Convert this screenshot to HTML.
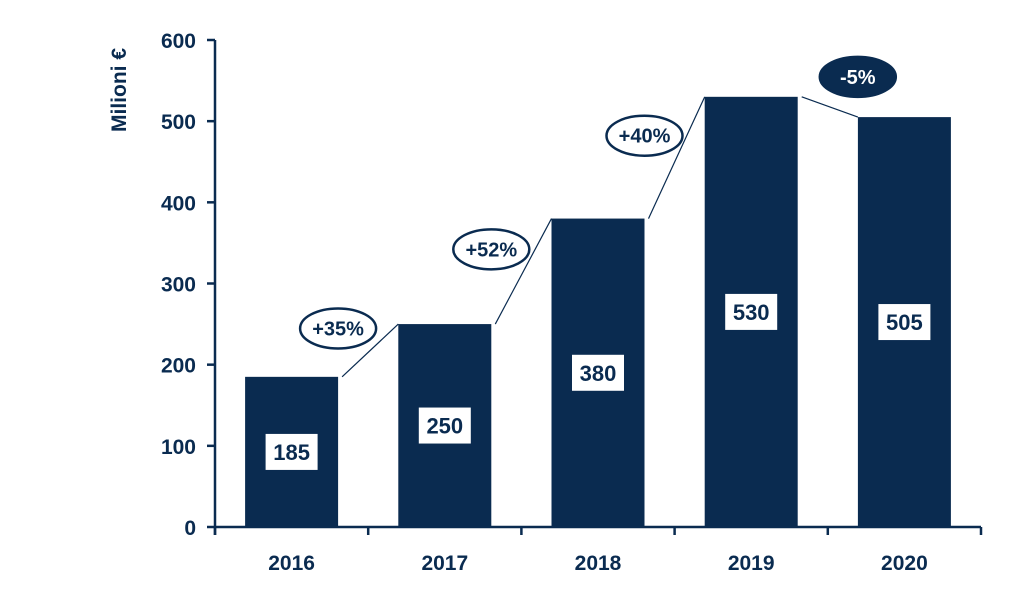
<!DOCTYPE html>
<html><head><meta charset="utf-8"><style>
body{margin:0;background:#fff;}
svg text{font-family:"Liberation Sans",sans-serif;font-weight:bold;fill:#0a2b50;}
</style></head><body>
<svg id="chart" width="1024" height="601" viewBox="0 0 1024 601" xmlns="http://www.w3.org/2000/svg">
<text x="0" y="0" font-size="21" text-anchor="middle" transform="translate(126,90) rotate(-90)">Milioni €</text>
<g id="g"></g>
</svg>
<script>
const categories=["2016","2017","2018","2019","2020"];
const values=[185,250,380,530,505];
const changes=["+35%","+52%","+40%","-5%"];
const yTicks=[0,100,200,300,400,500,600];
const C="#0a2b50",NS="http://www.w3.org/2000/svg";
const x0=215,x1=981,y0=527,yTop=40;
const bw=(x1-x0)/categories.length;
const ys=v=>y0-(v/600)*(y0-yTop);
const xc=i=>x0+bw*(i+0.5);
const barW=93;
const g=document.getElementById('g');
function el(t,a,txt){const e=document.createElementNS(NS,t);for(const k in a)e.setAttribute(k,a[k]);if(txt!=null)e.textContent=txt;g.appendChild(e);return e;}
let e;
e=el('line',{x1:x0,y1:yTop,x2:x0,y2:y0+8,stroke:C,'stroke-width':2.5});


e=el('line',{x1:x0,y1:y0,x2:x1,y2:y0,stroke:C,'stroke-width':2.5});


yTicks.forEach(v=>{
 e=el('line',{x1:x0-8,y1:ys(v),x2:x0,y2:ys(v),stroke:C,'stroke-width':2.5});
 
 
 e=el('text',{x:196,y:ys(v)+8,'font-size':21,'text-anchor':'end'},v);
 
 
});
for(let i=0;i<=categories.length;i++){
 e=el('line',{x1:x0+bw*i,y1:y0,x2:x0+bw*i,y2:y0+8,stroke:C,'stroke-width':2.5});
 
 
}
categories.forEach((c,i)=>{
 const v=values[i],bx=xc(i)-barW/2;
 e=el('rect',{x:bx,y:ys(v),width:barW,height:y0-ys(v),fill:C});
 
 
 const my=(ys(v)+y0)/2;
 e=el('rect',{x:xc(i)-26,y:my-18,width:52,height:36,fill:'#fff'});
 
 
 e=el('text',{x:xc(i),y:my+8,'font-size':22,'text-anchor':'middle'},v);
 
 
 e=el('text',{x:xc(i),y:570,'font-size':21,'text-anchor':'middle'},c);
 
 
});
changes.forEach((t,i)=>{
 const ax=xc(i)+barW/2+4,ay=ys(values[i]),bx=xc(i+1)-barW/2,by=ys(values[i+1]);
 e=el('line',{x1:ax,y1:ay,x2:bx,y2:by,stroke:C,'stroke-width':1.2});
 
 
 const neg=values[i+1]<values[i];
 const cx=neg?(ax+bx)/2+28:ax-4, cy=neg?Math.min(ay,by)-20:(ay+by)/2-22;
 e=el('ellipse',{cx:cx,cy:cy,rx:38,ry:20,fill:neg?C:'#fff',stroke:C,'stroke-width':2.5});
 
 
 e=el('text',{x:cx,y:cy+7,'font-size':20,'text-anchor':'middle',style:neg?'fill:#fff':''},t);
 
 
});
</script>
</body></html>
